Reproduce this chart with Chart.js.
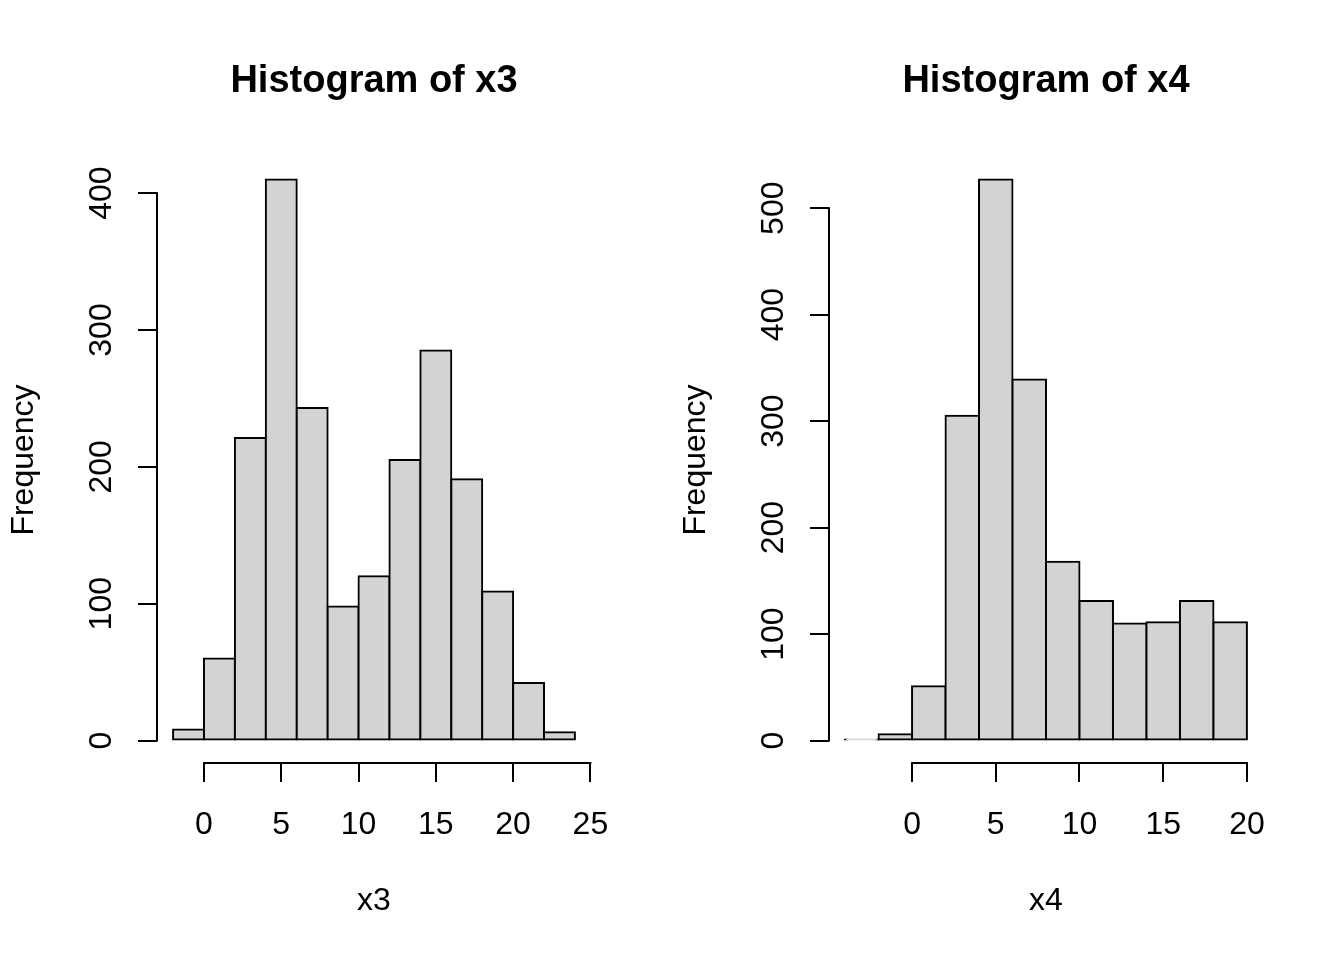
<!DOCTYPE html>
<html>
<head>
<meta charset="utf-8">
<script src="https://cdn.jsdelivr.net/npm/chart.js@4.4.1/dist/chart.umd.min.js"></script>
<style>
html,body{margin:0;padding:0;background:#fff;}
#wrap{position:relative;width:1344px;height:960px;background:#fff;}
canvas{position:absolute;top:0;}
#c1{left:0;}
#c2{left:672px;}
</style>
</head>
<body>
<div id="wrap">
<canvas id="c1" width="672" height="960"></canvas>
<canvas id="c2" width="672" height="960"></canvas>
</div>
<script>
// ---- data ----
const x3Breaks = [-2, 0, 2, 4, 6, 8, 10, 12, 14, 16, 18, 20, 22, 24];
const x3Counts = [8, 60, 221, 410, 243, 98, 120, 205, 285, 191, 109, 42, 6];
const x3XTicks = [0, 5, 10, 15, 20, 25];
const x3YTicks = [0, 100, 200, 300, 400];

const x4Breaks = [-4, -2, 0, 2, 4, 6, 8, 10, 12, 14, 16, 18, 20];
const x4Counts = [1, 6, 51, 305, 527, 339, 168, 131, 110, 111, 131, 111];
const x4XTicks = [0, 5, 10, 15, 20];
const x4YTicks = [0, 100, 200, 300, 400, 500];

const FONT = '"Liberation Sans", Arial, Helvetica, sans-serif';

// R-style axis line: only from first to last tick
const rAxes = {
  id: 'rAxes',
  afterDraw(chart) {
    const {ctx, chartArea, scales: {x, y}} = chart;
    ctx.save();
    ctx.strokeStyle = '#000';
    ctx.lineWidth = 2;
    ctx.lineCap = 'square';
    ctx.beginPath();
    const xt = x.ticks, yt = y.ticks;
    ctx.moveTo(x.getPixelForValue(xt[0].value), chartArea.bottom);
    ctx.lineTo(x.getPixelForValue(xt[xt.length - 1].value), chartArea.bottom);
    ctx.moveTo(chartArea.left, y.getPixelForValue(yt[0].value));
    ctx.lineTo(chartArea.left, y.getPixelForValue(yt[yt.length - 1].value));
    ctx.stroke();
    ctx.restore();
  }
};

function makeHist(id, title, xlab, breaks, counts, xTicks, yTicks) {
  const x0 = breaks[0], x1 = breaks[breaks.length - 1];
  const xe = (x1 - x0) * 0.04;
  const ymax = Math.max(...counts);
  const ye = ymax * 0.04;
  const pts = counts.map((c, i) => ({x: (breaks[i] + breaks[i + 1]) / 2, y: c}));
  const grid = {display: true, drawOnChartArea: false, drawTicks: true, tickLength: 19,
                color: '#000', lineWidth: 2, offset: false};
  return new Chart(document.getElementById(id), {
    type: 'bar',
    data: {
      datasets: [{
        data: pts,
        backgroundColor: '#D3D3D3',
        borderColor: '#000',
        borderWidth: 2,
        borderSkipped: false,
        inflateAmount: 1,
        barPercentage: 1,
        categoryPercentage: 1
      }]
    },
    options: {
      responsive: false,
      animation: false,
      devicePixelRatio: 1,
      layout: {padding: {left: 0, top: 0, right: 81, bottom: 0}},
      plugins: {
        legend: {display: false},
        tooltip: {enabled: false},
        title: {
          display: true, text: title, fullSize: false, color: '#000',
          font: {family: FONT, size: 38, weight: 'bold', lineHeight: 1.2},
          padding: {top: 58.5, bottom: 52.9}
        }
      },
      scales: {
        x: {
          type: 'linear', min: x0 - xe, max: x1 + xe, offset: false,
          afterBuildTicks: s => { s.ticks = xTicks.map(v => ({value: v})); },
          afterFit: s => { s.height = 197; },
          border: {display: false},
          grid: grid,
          ticks: {color: '#000', font: {family: FONT, size: 32}, padding: 24,
                  minRotation: 0, maxRotation: 0, autoSkip: false, callback: v => String(v)},
          title: {display: true, text: xlab, color: '#000', font: {family: FONT, size: 32},
                  padding: {top: 0, bottom: 40}}
        },
        y: {
          type: 'linear', min: -ye, max: ymax + ye,
          afterBuildTicks: s => { s.ticks = yTicks.map(v => ({value: v})); },
          afterFit: s => { s.width = 157; },
          border: {display: false},
          grid: grid,
          ticks: {color: '#000', font: {family: FONT, size: 32}, padding: 9,
                  minRotation: 90, maxRotation: 90, crossAlign: 'center',
                  autoSkip: false, callback: v => String(v)},
          title: {display: true, text: 'Frequency', color: '#000', font: {family: FONT, size: 32},
                  padding: {top: 5, bottom: 0}}
        }
      }
    },
    plugins: [rAxes]
  });
}

makeHist('c1', 'Histogram of x3', 'x3', x3Breaks, x3Counts, x3XTicks, x3YTicks);
makeHist('c2', 'Histogram of x4', 'x4', x4Breaks, x4Counts, x4XTicks, x4YTicks);
</script>
</body>
</html>
